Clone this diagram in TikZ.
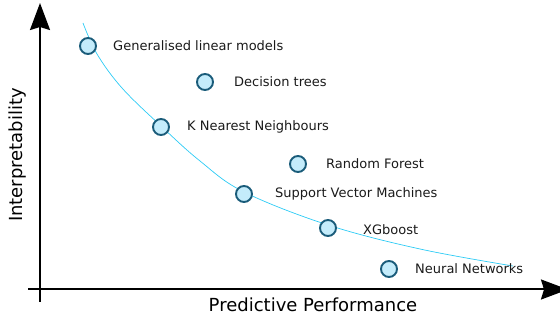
\documentclass[tikz,border=0pt]{standalone}
\usepackage{fontspec}
\setmainfont{DejaVu Sans}
\usetikzlibrary{arrows.meta}
\definecolor{dotfill}{HTML}{C4ECFB}
\definecolor{dotline}{HTML}{1A5C7A}
\definecolor{trend}{HTML}{2CCBF5}
\definecolor{labtext}{HTML}{1A1A1A}
\begin{document}
\begin{tikzpicture}[x=1pt,y=-1pt,
  dot/.style={circle,draw=dotline,fill=dotfill,line width=1.9pt,minimum size=16pt,inner sep=0pt},
  lab/.style={anchor=west,font=\fontsize{13}{15}\selectfont,text=labtext,inner sep=0pt},
  axis/.style={line width=2pt,-{Stealth[length=27pt,width=20pt,inset=3pt]}},
  axlab/.style={font=\fontsize{18}{20}\selectfont}]
\useasboundingbox (0,0) rectangle (560,320);
% axes
\coordinate (yb) at (40,302);
\coordinate (yt) at (40,3);
\coordinate (xl) at (28,289.5);
\coordinate (xr) at (568,289.5);
\draw[axis] (yb) -- (yt);
\draw[axis] (xl) -- (xr);
\node[axlab,rotate=90] (ylab) at (18,155) {Interpretability};
\node[axlab] (xlab) at (313,305) {Predictive Performance};
% trade-off curve
\draw[trend,line width=0.7pt] plot[smooth,tension=0.6] coordinates
  {(83,23) (97,54) (122,88) (161,126) (200,161) (244,192) (328,225) (420,249) (513,266)};
% models
\node[dot] (glm) at (88,46) {};
\node[dot] (dt) at (205,82) {};
\node[dot] (knn) at (161,127) {};
\node[dot] (rf) at (298,164) {};
\node[dot] (svm) at (244,194) {};
\node[dot] (xgb) at (328,228) {};
\node[dot] (nn) at (389,269) {};
\node[lab] (glmt) at (113,46) {Generalised linear models};
\node[lab] (dtt) at (234,82) {Decision trees};
\node[lab] (knnt) at (187,127) {K Nearest Neighbours};
\node[lab] (rft) at (326,164) {Random Forest};
\node[lab] (svmt) at (275,194) {Support Vector Machines};
\node[lab] (xgbt) at (363,230) {XGboost};
\node[lab] (nnt) at (415,269) {Neural Networks};
\end{tikzpicture}
\end{document}
